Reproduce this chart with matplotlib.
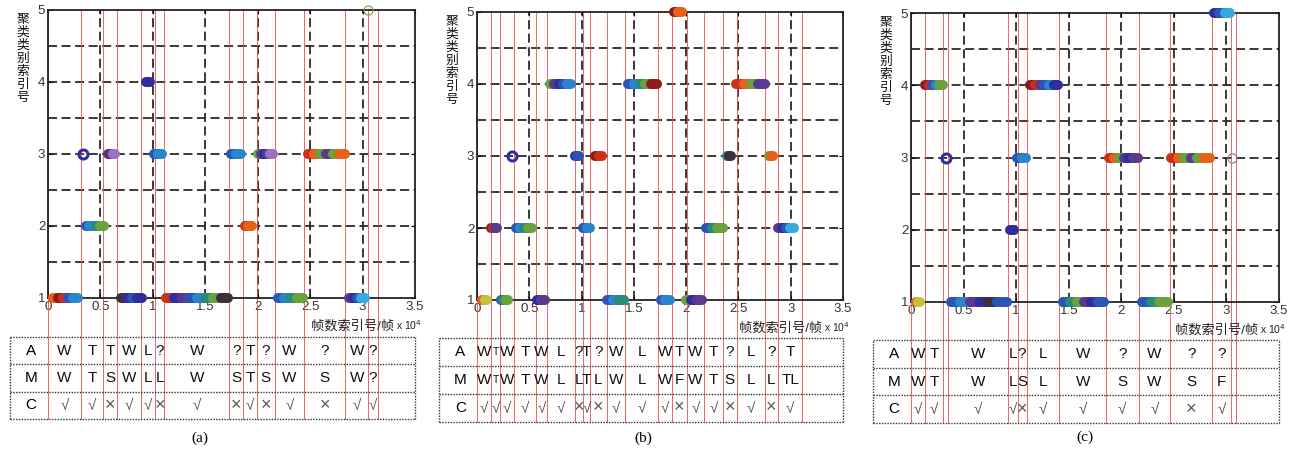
import matplotlib
matplotlib.use('Agg')
import matplotlib.pyplot as plt

plt.rcParams['font.family'] = ['Liberation Sans', 'Noto Sans CJK SC', 'DejaVu Sans']

W, H = 1301, 453

# point colours used in the cluster runs
COLORS = {
    'o': '#e8601a', 'r': '#cc3018', 'd': '#8c1c1c', 'n': '#2e2e9e',
    'b': '#2a54b8', 'l': '#2a86cc', 'c': '#36aade', 't': '#2a8a7a',
    'g': '#6aa23e', 'p': '#5a3a8e', 'k': '#3c3040', 'y': '#c4c23e',
    'm': '#a070c0',
}

XTICKS = [0, 0.5, 1, 1.5, 2, 2.5, 3, 3.5]
XTICK_LABELS = ['0', '0.5', '1', '1.5', '2', '2.5', '3', '3.5']
YTICKS = [1, 2, 3, 4, 5]
GRID_X = [0.5, 1, 1.5, 2, 2.5, 3]
GRID_Y = [1.5, 2, 2.5, 3, 3.5, 4, 4.5]
XLABEL = '帧数索引号/帧'
YLABEL = '聚类类别索引号'
ROW_NAMES = ['A', 'M', 'C']

# (cluster index, first frame, last frame  [x10^4], colour sequence)
BLOBS_A = [
    (1, 0.045, 0.29, 'odrbl'), (1, 0.70, 0.895, 'knbn'), (1, 1.125, 1.72, 'rnpbltgk'),
    (1, 2.19, 2.435, 'bltg'), (1, 2.875, 3.025, 'pnbc'),
    (2, 0.36, 0.53, 'blltg'), (2, 1.875, 1.945, 'ro'),
    (3, 0.57, 0.64, 'pkpm'), (3, 1.01, 1.085, 'bl'), (3, 1.745, 1.845, 'bl'),
    (3, 2.0, 2.15, 'gpnpm'), (3, 2.475, 2.835, 'rogpgo'),
    (4, 0.935, 0.975, 'n'),
]
RINGS_A = [(0.335, 3, 'n', 'thick'), (3.054, 5, 'g', 'thin')]
SEG_A = [0.0, 0.312, 0.525, 0.662, 0.885, 1.021, 1.107, 1.728, 1.864, 1.989,
         2.167, 2.44, 2.835, 3.054, 3.143]
ROW_A_A = ['W', 'T', 'T', 'W', 'L', '?', 'W', '?', 'T', '?', 'W', '?', 'W', '?']
ROW_M_A = ['W', 'T', 'S', 'W', 'L', 'L', 'W', 'S', 'T', 'S', 'W', 'S', 'W', '?']
ROW_C_A = ['√', '√', '×', '√', '√', '×', '√', '×', '√', '×', '√', '×', '√', '√']

BLOBS_B = [
    (5, 1.885, 1.96, 'do'),
    (4, 0.70, 0.90, 'gpnbl'), (4, 1.445, 1.72, 'bltgd'), (4, 2.48, 2.755, 'rogp'),
    (3, 0.94, 0.98, 'nb'), (3, 1.13, 1.195, 'dr'), (3, 2.39, 2.43, 'tk'), (3, 2.795, 2.835, 'go'),
    (2, 0.135, 0.195, 'drp'), (2, 0.37, 0.53, 'bltg'), (2, 1.015, 1.085, 'bl'),
    (2, 2.19, 2.35, 'btg'), (2, 2.88, 3.035, 'pnbc'),
    (1, 0.045, 0.10, 'oy'), (1, 0.225, 0.30, 'btg'), (1, 0.57, 0.65, 'np'),
    (1, 1.24, 1.41, 'blt'), (1, 1.755, 1.85, 'bl'), (1, 2.0, 2.15, 'gnp'),
]
RINGS_B = [(0.33, 3, 'n', 'thick')]
SEG_B = [0.0, 0.137, 0.223, 0.35, 0.566, 0.668, 0.939, 1.012, 1.082, 1.241, 1.416,
         1.734, 1.861, 2.004, 2.173, 2.354, 2.482, 2.752, 2.879, 3.109]
ROW_A_B = ['W', 'T', 'W', 'T', 'W', 'L', '?', 'T', '?', 'W', 'L', 'W', 'T', 'W', 'T', '?', 'L', '?', 'T']
ROW_M_B = ['W', 'T', 'W', 'T', 'W', 'L', 'L', 'T', 'L', 'W', 'L', 'W', 'F', 'W', 'T', 'S', 'L', 'L', 'TL']
ROW_C_B = ['√', '√', '√', '√', '√', '√', '×', '√', '×', '√', '√', '√', '×', '√', '√', '×', '√', '×', '√']
SMALL_B = [1]

BLOBS_C = [
    (5, 2.88, 3.035, 'nbc'),
    (4, 0.135, 0.305, 'drblg'), (4, 1.135, 1.40, 'drpbln'),
    (3, 1.01, 1.095, 'bl'), (3, 1.885, 2.16, 'rogpnp'), (3, 2.475, 2.845, 'rogpgo'),
    (2, 0.94, 0.98, 'n'),
    (1, 0.045, 0.09, 'oy'), (1, 0.38, 0.91, 'blpnkb'), (1, 1.445, 1.84, 'btgpnb'),
    (1, 2.2, 2.44, 'btg'),
]
RINGS_C = [(0.33, 3, 'n', 'thick'), (3.057, 3, 'gray', 'thin')]
SEG_C = [0.0, 0.130, 0.304, 0.348, 0.927, 1.013, 1.101, 1.411, 1.854, 2.165,
         2.468, 2.867, 3.041, 3.089]
ROW_A_C = ['W', 'T', '', 'W', 'L', '?', 'L', 'W', '?', 'W', '?', '?', '']
ROW_M_C = ['W', 'T', '', 'W', 'L', 'S', 'L', 'W', 'S', 'W', 'S', 'F', '']
ROW_C_C = ['√', '√', '', '√', '√', '×', '√', '√', '√', '√', '×', '√', '']

fig = plt.figure(figsize=(W / 100, H / 100), dpi=100)


def box(l, t, r, b):
    return [l / W, 1 - b / H, (r - l) / W, (b - t) / H]


def draw_panel(pbox, tbox, blobs, rings, seg, rows, caption, cap_xy, small=()):
    l, t, r, b = pbox
    ax = fig.add_axes(box(*pbox))
    ax.set_xlim(0, 3.5)
    ax.set_ylim(1, 5)
    for gx in GRID_X:
        ax.axvline(gx, color='#2a2a2a', lw=1.3, ls=(0, (5, 2.5)), zorder=1)
    for gy in GRID_Y:
        ax.axhline(gy, color='#2a2a2a', lw=1.3, ls=(0, (5, 2.5)), zorder=1)

    for lvl, x0, x1, cols in blobs:
        n = len(cols)
        for i, c in enumerate(cols):
            xa = x0 + (x1 - x0) * i / n
            xb = x0 + (x1 - x0) * (i + 1) / n
            ax.plot([xa, xb], [lvl, lvl], color=COLORS[c], lw=7.2,
                    solid_capstyle='round', zorder=3, clip_on=False)
    for x, lvl, c, kind in rings:
        col = COLORS.get(c, c)
        mew = 2.2 if kind == 'thick' else 0.8
        ax.plot([x], [lvl], 'o', ms=6.5, mfc='none', mec=col, mew=mew, zorder=3, clip_on=False)

    # red separators run from the plot top down through the table
    frac = (tbox[3] - b) / (b - t)
    for x in seg:
        ax.axvline(x, ymin=-frac, ymax=1, color='#f04a4a', lw=0.7, alpha=0.85,
                   zorder=2, clip_on=False)

    ax.set_xticks(XTICKS)
    ax.set_xticklabels(XTICK_LABELS)
    ax.set_yticks(YTICKS)
    ax.tick_params(direction='in', length=3, labelsize=9.5, labelcolor='#333333',
                   top=True, right=True, pad=2)
    for s in ax.spines.values():
        s.set_linewidth(1.3)
        s.set_color('#222222')

    # axis labels
    ax.text(1 - 21 / (r - l), -28 / (b - t), XLABEL, transform=ax.transAxes,
            ha='right', va='center', fontsize=9.5, color='#222222')
    ax.text(1 - 19 / (r - l), -27 / (b - t), r'x 10$^4$', transform=ax.transAxes,
            ha='left', va='center', fontsize=7.5, color='#222222')
    for i, ch in enumerate(YLABEL):
        fig.text((l - 25) / W, 1 - (t + 10 + i * 13) / H, ch, ha='center', va='center',
                 fontsize=9.2, color='#111111')

    # table under the plot
    tax = fig.add_axes(box(l, tbox[1], r, tbox[3]))
    tax.set_xlim(0, 3.5)
    tax.set_ylim(0, 3)
    tax.axis('off')
    left = -0.365
    for y in [0, 1, 2, 3]:
        tax.plot([left, 3.5], [y, y], color='#333333', lw=1, ls=(0, (1, 1)), clip_on=False)
    for x in [left, 3.5]:
        tax.plot([x, x], [0, 3], color='#333333', lw=1, ls=(0, (1, 1)), clip_on=False)
    for j, (name, labels) in enumerate(zip(ROW_NAMES, rows)):
        y = 2.5 - j
        tax.text(-0.16, y, name, ha='center', va='center', fontsize=11, clip_on=False)
        for k, lab in enumerate(labels):
            xm = (seg[k] + seg[k + 1]) / 2
            fs = 7.5 if (k in small and j < 2) else 11
            col = '#111111'
            if lab == '×':
                fs, col = 13, '#555555'
            elif lab == '√':
                col = '#555555'
            tax.text(xm, y, lab, ha='center', va='center', fontsize=fs, color=col, clip_on=False)

    fig.text(cap_xy[0] / W, 1 - cap_xy[1] / H, caption, ha='center', va='center',
             family='Liberation Serif', fontsize=11)


draw_panel((48, 10, 415, 298), (48, 337, 415, 419), BLOBS_A, RINGS_A, SEG_A,
           [ROW_A_A, ROW_M_A, ROW_C_A], '(a)', (200, 438))
draw_panel((477, 12, 843, 300), (477, 338, 843, 422), BLOBS_B, RINGS_B, SEG_B,
           [ROW_A_B, ROW_M_B, ROW_C_B], '(b)', (643, 438), small=SMALL_B)
draw_panel((911, 13, 1279, 302), (911, 340, 1279, 423), BLOBS_C, RINGS_C, SEG_C,
           [ROW_A_C, ROW_M_C, ROW_C_C], '(c)', (1085, 437))

fig.savefig('out.png', dpi=100, facecolor='white')
